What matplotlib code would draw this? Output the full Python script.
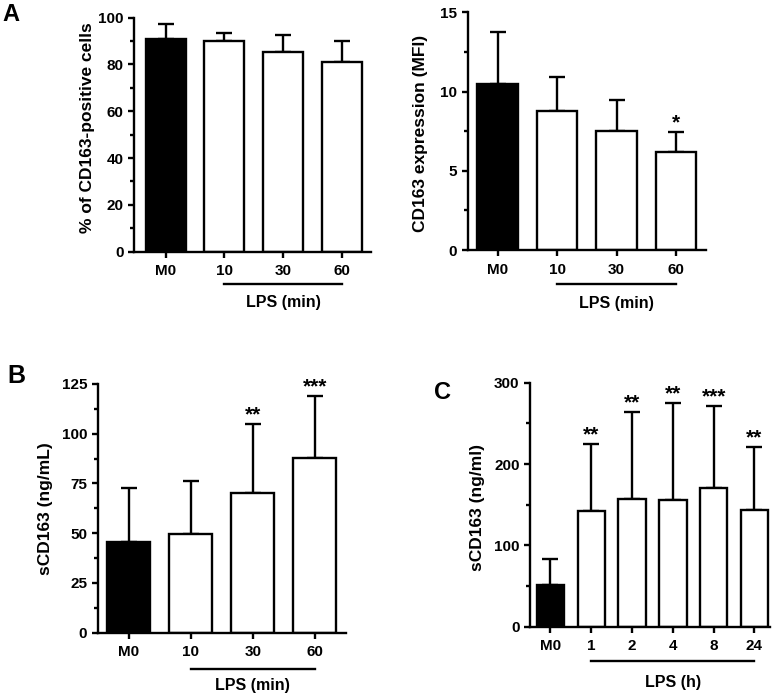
import matplotlib
matplotlib.use("Agg")
import matplotlib.pyplot as plt
from matplotlib.transforms import ScaledTranslation

plt.rcParams['font.family'] = ['Liberation Sans', 'DejaVu Sans']
plt.rcParams['font.weight'] = 'bold'

# panel A, left: % of CD163-positive cells
a1_labels = ['M0', '10', '30', '60']
a1_means = [90.8, 90.2, 85.5, 81.1]
a1_err = [6.4, 3.2, 7.1, 9.1]
a1_stars = ['', '', '', '']

# panel A, right: CD163 expression (MFI)
a2_labels = ['M0', '10', '30', '60']
a2_means = [10.48, 8.79, 7.49, 6.17]
a2_err = [3.26, 2.15, 1.98, 1.26]
a2_stars = ['', '', '', '*']

# panel B: sCD163 (ng/mL), LPS minutes
b_labels = ['M0', '10', '30', '60']
b_means = [45.7, 49.5, 70.1, 88.0]
b_err = [26.9, 26.9, 34.6, 30.9]
b_stars = ['', '', '**', '***']

# panel C: sCD163 (ng/ml), LPS hours
c_labels = ['M0', '1', '2', '4', '8', '24']
c_means = [51.3, 142.2, 156.6, 156.0, 171.0, 143.5]
c_err = [31.9, 82.0, 107.7, 119.4, 100.7, 77.8]
c_stars = ['', '**', '**', '**', '***', '**']

LW = 1.7


def bar_panel(ax, labels, means, err, stars, ymax, major, ylabel, xlabel,
              width, capsize, xlim, line_off, text_off, ylab_pos):
    x = list(range(len(labels)))
    colors = ['black'] + ['white'] * (len(labels) - 1)
    ax.bar(x, means, width=width, color=colors, edgecolor='black', linewidth=LW, zorder=2)
    ax.errorbar(x, means, yerr=[[0] * len(err), err], fmt='none', ecolor='black',
                elinewidth=LW, capsize=capsize, capthick=LW, zorder=1)
    for xi, m, e, s in zip(x, means, err, stars):
        if s:
            ax.annotate(s, (xi, m + e), xytext=(0, 6.5), textcoords='offset points',
                        ha='center', va='center', fontsize=15, fontweight='bold')
    ax.set_xlim(*xlim)
    ax.set_ylim(0, ymax)
    ax.set_yticks([i * major for i in range(int(round(ymax / major)) + 1)])
    ax.set_yticks([major / 2 + i * major for i in range(int(round(ymax / major)))], minor=True)
    ax.set_xticks(x)
    ax.set_xticklabels(labels)
    ax.spines['top'].set_visible(False)
    ax.spines['right'].set_visible(False)
    ax.spines['left'].set_linewidth(LW)
    ax.spines['bottom'].set_linewidth(LW)
    ax.tick_params(axis='both', which='major', width=LW, length=4, labelsize=11)
    ax.tick_params(axis='y', which='minor', width=LW, length=3)
    ax.tick_params(axis='x', pad=5)
    ax.set_ylabel(ylabel, fontsize=12.5, fontweight='bold')
    ax.yaxis.set_label_coords(*ylab_pos)
    for t in ax.get_xticklabels() + ax.get_yticklabels():
        t.set_fontweight('bold')
    # LPS bracket under the treated bars
    fig = ax.figure
    tl = ax.get_xaxis_transform() + ScaledTranslation(0, -line_off / 100, fig.dpi_scale_trans)
    ax.plot([x[1], x[-1]], [0, 0], color='black', lw=LW, transform=tl, clip_on=False)
    tt = ax.get_xaxis_transform() + ScaledTranslation(0, -text_off / 100, fig.dpi_scale_trans)
    ax.text((x[1] + x[-1]) / 2, 0, xlabel, transform=tt, ha='center', va='center',
            fontsize=11.5, fontweight='bold')


fig = plt.figure(figsize=(7.77, 6.96), dpi=100)

ax1 = fig.add_axes([0.1725, 0.6384, 0.305, 0.3362])
bar_panel(ax1, a1_labels, a1_means, a1_err, a1_stars, 100, 20, '% of CD163-positive cells',
          'LPS (min)', 0.68, 6, (-0.54, 3.5), 32, 51, (-0.165, 0.53))

ax2 = fig.add_axes([0.602, 0.6408, 0.3066, 0.3415])
bar_panel(ax2, a2_labels, a2_means, a2_err, a2_stars, 15, 5, 'CD163 expression (MFI)',
          'LPS (min)', 0.68, 6, (-0.5, 3.5), 34, 53, (-0.167, 0.49))

ax3 = fig.add_axes([0.1257, 0.0910, 0.3193, 0.3573])
bar_panel(ax3, b_labels, b_means, b_err, b_stars, 125, 25, 'sCD163 (ng/mL)',
          'LPS (min)', 0.69, 6, (-0.5, 3.5), 36, 53, (-0.18, 0.5))

ax4 = fig.add_axes([0.6821, 0.0996, 0.3089, 0.3505])
bar_panel(ax4, c_labels, c_means, c_err, c_stars, 300, 100, 'sCD163 (ng/ml)',
          'LPS (h)', 0.67, 5.5, (-0.5, 5.38), 34, 56, (-0.1875, 0.49))

fig.text(0.003, 0.995, 'A', fontsize=17, fontweight='bold', va='top', ha='left')
fig.text(0.010, 0.477, 'B', fontsize=18, fontweight='bold', va='top', ha='left')
fig.text(0.559, 0.452, 'C', fontsize=17, fontweight='bold', va='top', ha='left')

fig.savefig('out.png', dpi=100)
